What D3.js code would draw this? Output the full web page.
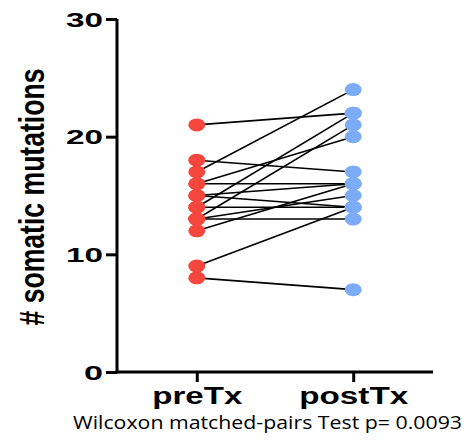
<!DOCTYPE html>
<html>
<head>
<meta charset="utf-8">
<script src="https://cdn.jsdelivr.net/npm/d3@7"></script>
<style>
  body { margin: 0; background: #fff; }
  svg { display: block; }
</style>
</head>
<body>
<div id="chart"></div>
<script>
// paired values per patient
const groups = ["preTx", "postTx"];
const preTx  = [21, 18, 17, 16, 16, 15, 15, 14, 14, 13, 13, 13, 12, 9, 8];
const postTx = [22, 17, 24, 20, 16, 16, 14, 22, 14, 21, 13, 15, 16, 14, 7];
const yTicks = [0, 10, 20, 30];
const footnote = "Wilcoxon matched-pairs Test p= 0.0093";

const width = 468, height = 448;

const svg = d3.select("#chart")
  .append("svg")
  .attr("width", width)
  .attr("height", height);

const x = d3.scalePoint()
  .domain(groups)
  .range([117, 433])
  .padding(0.51);

const y = d3.scaleLinear()
  .domain([0, 30])
  .range([372, 19]);

const pairs = preTx.map((v, i) => ({ pre: v, post: postTx[i] }));

// connecting lines
svg.append("g")
  .selectAll("line")
  .data(pairs)
  .join("line")
  .attr("x1", x("preTx"))
  .attr("x2", x("postTx"))
  .attr("y1", d => y(d.pre))
  .attr("y2", d => y(d.post))
  .attr("stroke", "#000")
  .attr("stroke-width", 1.6);

// dots (chart is stretched sideways, so dots are ellipses)
svg.append("g")
  .selectAll("ellipse")
  .data(preTx)
  .join("ellipse")
  .attr("cx", x("preTx"))
  .attr("cy", d => y(d))
  .attr("rx", 8.5)
  .attr("ry", 6.5)
  .attr("fill", "#f5473d");

svg.append("g")
  .selectAll("ellipse")
  .data(postTx)
  .join("ellipse")
  .attr("cx", x("postTx"))
  .attr("cy", d => y(d))
  .attr("rx", 8.5)
  .attr("ry", 6.5)
  .attr("fill", "#7cacf8");

// y axis
const yAxis = svg.append("g")
  .attr("transform", "translate(117,0)")
  .call(d3.axisLeft(y).tickValues(yTicks).tickSize(11).tickSizeOuter(0));
yAxis.select(".domain").attr("stroke-width", 3).attr("d", "M0," + y(30) + "V" + (y(0) + 1.5));
yAxis.selectAll(".tick line").attr("stroke-width", 3);
yAxis.selectAll(".tick text")
  .attr("x", -14)
  .attr("dy", "0.36em")
  .attr("font-family", "'Liberation Sans', Arial, sans-serif")
  .attr("font-weight", "bold")
  .attr("font-size", 20)
  .attr("fill", "#000")
  .attr("textLength", d => d === 0 ? 19 : 37)
  .attr("lengthAdjust", "spacingAndGlyphs");

// x axis
const xAxis = svg.append("g")
  .attr("transform", "translate(0,372)")
  .call(d3.axisBottom(x).tickSize(10).tickSizeOuter(0));
xAxis.select(".domain").attr("stroke-width", 3).attr("d", "M115.5,0H433");
xAxis.selectAll(".tick line").attr("stroke-width", 3);
xAxis.selectAll(".tick text")
  .attr("y", 32)
  .attr("dy", 0)
  .attr("font-family", "'Liberation Sans', Arial, sans-serif")
  .attr("font-weight", "bold")
  .attr("font-size", 23)
  .attr("fill", "#000")
  .attr("textLength", d => d === "preTx" ? 90 : 109)
  .attr("lengthAdjust", "spacingAndGlyphs");

// y axis title
svg.append("text")
  .attr("transform", "translate(44,197) rotate(-90)")
  .attr("text-anchor", "middle")
  .attr("font-family", "'Liberation Sans', Arial, sans-serif")
  .attr("font-weight", "bold")
  .attr("font-size", 35)
  .attr("textLength", 257)
  .attr("lengthAdjust", "spacingAndGlyphs")
  .text("# somatic mutations");

// footnote
svg.append("text")
  .attr("x", 73)
  .attr("y", 429)
  .attr("font-family", "'Open Sans', sans-serif")
  .attr("font-size", 18)
  .attr("textLength", 389)
  .attr("lengthAdjust", "spacingAndGlyphs")
  .text(footnote);
</script>
</body>
</html>
